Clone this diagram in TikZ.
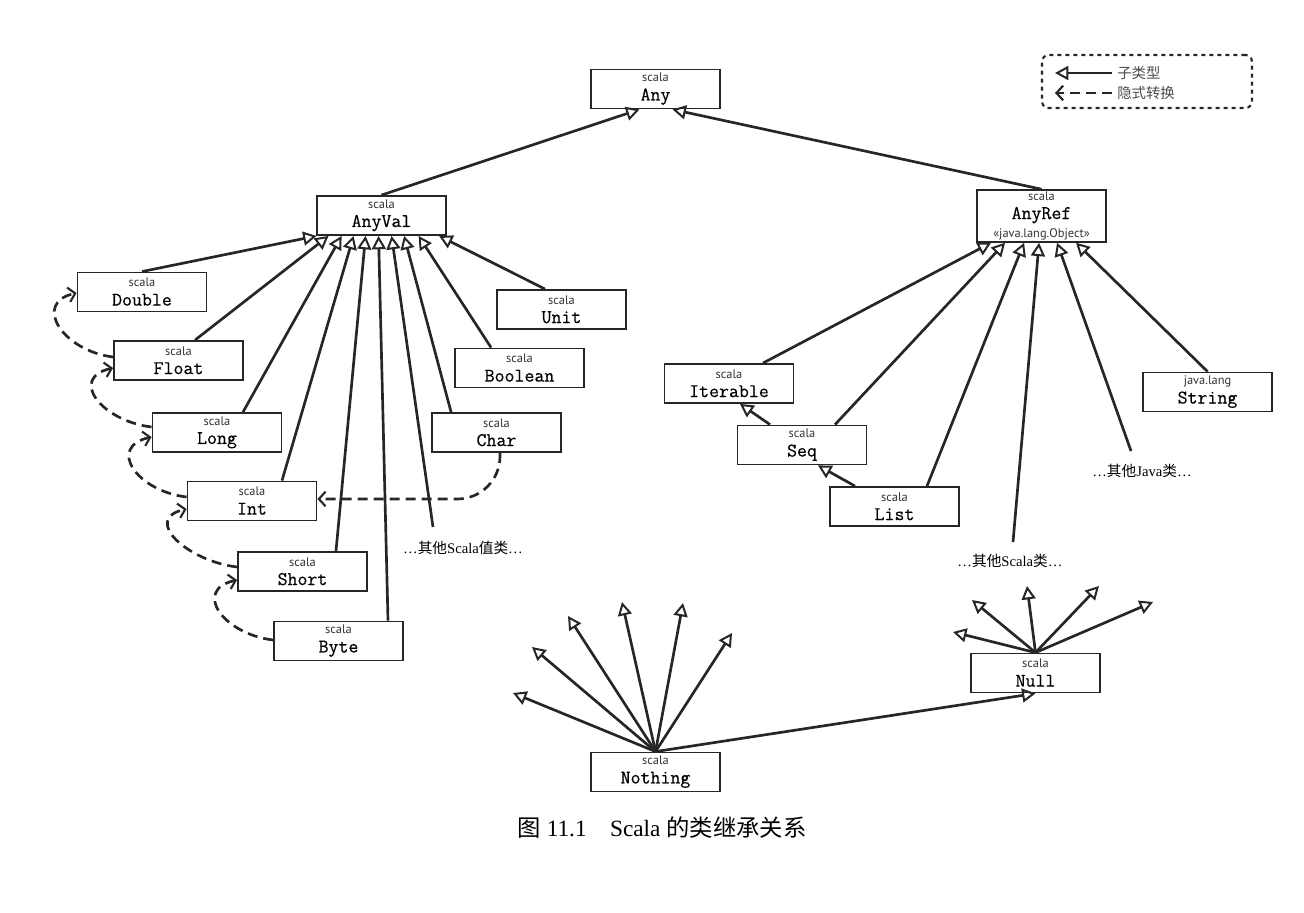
\documentclass[tikz,border=0pt]{standalone}
\usepackage{fontspec}
\setmainfont{Liberation Serif}
\newfontfamily\cjk{Noto Sans CJK SC}
\newfontfamily\pksans{PT Sans}
\newfontfamily\namefont{Latin Modern Mono}[FakeBold=0.45]
\usetikzlibrary{arrows.meta,calc}

% package line (small sans) and type name (monospace)
\newcommand{\pk}[1]{{\pksans\fontsize{9.3}{9.5}\selectfont\color{black!80}#1}}
\newcommand{\nm}[1]{{\namefont\fontsize{14.5}{15}\selectfont #1}}

\tikzset{
  cls/.style={draw=black!85, line width=1.15pt, fill=white, minimum width=97pt,
    minimum height=29.5pt, inner sep=0pt, align=center,
    font=\fontsize{10}{14}\selectfont},
  inh/.style={draw=black!85, line width=2pt,
    -{Triangle[open, length=10pt, width=10.5pt, line width=1.5pt]}},
  impl/.style={draw=black!85, line width=2pt, dash pattern=on 7.5pt off 4.5pt,
    -{Straight Barb[length=5pt, width=11pt, line width=1.6pt]}},
  note/.style={inner sep=0pt, font=\fontsize{11}{13}\selectfont},
}

\begin{document}
\begin{tikzpicture}[x=0.75pt, y=-0.75pt]
\useasboundingbox (0,0) rectangle (1304,913);

% ---------- top of the hierarchy ----------
\node[cls] (any)    at (655.5,89)  {\pk{scala}\\\nm{Any}};
\node[cls] (anyval) at (381.5,215.5) {\pk{scala}\\\nm{AnyVal}};
\node[cls, minimum height=39pt] (anyref) at (1041.5,216)
  {\pk{scala}\\\nm{AnyRef}\\\pk{«java.lang.Object»}};

% ---------- value classes ----------
\node[cls] (double)  at (142,292)    {\pk{scala}\\\nm{Double}};
\node[cls] (float)   at (178.5,360.5){\pk{scala}\\\nm{Float}};
\node[cls] (long)    at (217,432.5)  {\pk{scala}\\\nm{Long}};
\node[cls] (int)     at (252,501)    {\pk{scala}\\\nm{Int}};
\node[cls] (short)   at (302.5,571.5){\pk{scala}\\\nm{Short}};
\node[cls] (byte)    at (338.5,641)  {\pk{scala}\\\nm{Byte}};
\node[cls] (char)    at (496.5,432.5){\pk{scala}\\\nm{Char}};
\node[cls] (unit)    at (561.5,309.5){\pk{scala}\\\nm{Unit}};
\node[cls] (boolean) at (519.5,368)  {\pk{scala}\\\nm{Boolean}};

% ---------- reference classes ----------
\node[cls] (iterable) at (729,383.5)  {\pk{scala}\\\nm{Iterable}};
\node[cls] (seq)      at (802,445)    {\pk{scala}\\\nm{Seq}};
\node[cls] (list)     at (894.5,506.5){\pk{scala}\\\nm{List}};
\node[cls] (string)   at (1207.5,392) {\pk{java.lang}\\\nm{String}};

% ---------- bottom types ----------
\node[cls] (nothing) at (655.5,772) {\pk{scala}\\\nm{Nothing}};
\node[cls] (null)    at (1035.5,673){\pk{scala}\\\nm{Null}};

% ---------- "other classes" placeholders ----------
\coordinate (osv) at (433,527);
\coordinate (osc) at (1013,542);
\coordinate (ojv) at (1131,451);
\node[note] (osvt) at (463,548) {…{\cjk 其他}Scala{\cjk 值类}…};
\node[note] (osct) at (1010,561) {…{\cjk 其他}Scala{\cjk 类}…};
\node[note] (ojvt) at (1142,471) {…{\cjk 其他}Java{\cjk 类}…};

% ---------- subtype edges ----------
\draw[inh] (anyval.north) -- ($(any.south)+(-16,0)$);
\draw[inh] (anyref.north) -- ($(any.south)+(17,0)$);

\draw[inh] (double.north) -- ($(anyval.south west)+(0.5,0)$);
\draw[inh] ($(float.north)+(16.5,0)$) -- ($(anyval.south west)+(12.5,0)$);
\draw[inh] ($(long.north)+(26,0)$) -- ($(anyval.south west)+(25.5,0)$);
\draw[inh] ($(int.north)+(30,0)$) -- ($(anyval.south west)+(37.5,0)$);
\draw[inh] ($(short.north)+(33.5,0)$) -- ($(anyval.south west)+(49.5,0)$);
\draw[inh] ($(byte.north)+(49.5,0)$) -- ($(anyval.south west)+(62.5,0)$);
\draw[inh] (osv) -- ($(anyval.south west)+(75.5,0)$);
\draw[inh] ($(char.north west)+(20,0)$) -- ($(anyval.south west)+(88,0)$);
\draw[inh] ($(boolean.north west)+(37,0)$) -- ($(anyval.south west)+(102.5,0)$);
\draw[inh] ($(unit.north west)+(49,0)$) -- ($(anyval.south west)+(123,0)$);

\draw[inh] ($(iterable.north)+(34,0)$) -- ($(anyref.south west)+(15,0)$);
\draw[inh] ($(seq.north)+(33,0)$) -- ($(anyref.south west)+(29,0)$);
\draw[inh] ($(list.north)+(32.5,0)$) -- ($(anyref.south west)+(48,0)$);
\draw[inh] (osc) -- ($(anyref.south west)+(63,0)$);
\draw[inh] (ojv) -- ($(anyref.south west)+(81,0)$);
\draw[inh] (string.north) -- ($(anyref.south west)+(100,0)$);

\draw[inh] ($(seq.north)+(-32,0)$) -- ($(iterable.south)+(11,0)$);
\draw[inh] ($(list.north)+(-39.5,0)$) -- ($(seq.south)+(16,0)$);

% ---------- implicit conversions ----------
\draw[impl] ($(float.west)+(0,-3.5)$) .. controls +(-50,-6) and +(-45,10) .. ($(double.west)+(0,1)$);
\draw[impl] ($(long.west)+(0,-5.5)$) .. controls +(-50,-6) and +(-45,10) .. ($(float.west)+(0,7.5)$);
\draw[impl] ($(int.west)+(0,-4)$) .. controls +(-50,-6) and +(-45,10) .. ($(long.west)+(0,4.5)$);
\draw[impl] ($(short.west)+(0,-4.5)$) .. controls +(-50,-6) and +(-45,10) .. ($(int.west)+(0,8)$);
\draw[impl] ($(byte.west)+(0,-1)$) .. controls +(-50,-6) and +(-45,10) .. ($(short.west)+(0,8.5)$);
\draw[impl, rounded corners=32pt] ($(char.south)+(3.5,0)$) |- ($(int.east)+(0,-2)$);

% ---------- Nothing and Null fans ----------
\foreach \p in {(513,693),(532,647),(568,616),(622,602),(683,603),(732,633)}
  \draw[inh] (nothing.north) -- \p;
\draw[inh] (nothing.north) -- (null.south);
\foreach \p in {(953,632),(972,600),(1027,586),(1099,586),(1153,602)}
  \draw[inh] (null.north) -- \p;

% ---------- legend ----------
\node[draw=black!85, line width=1.6pt, dash pattern=on 3pt off 3pt,
  rounded corners=5pt, minimum width=157.5pt, minimum height=39.75pt]
  (legend) at (1147,81.5) {};
\coordinate (la1) at (1112,73);
\coordinate (lb1) at (1055,73);
\coordinate (la2) at (1112,93);
\coordinate (lb2) at (1055,93);
\draw[inh] (la1) -- (lb1);
\draw[impl] (la2) -- (lb2);
\node[anchor=west, inner sep=0pt, text=black!70, font=\cjk\fontsize{10.8}{12}\selectfont]
  (lt1) at (1117,73) {子类型};
\node[anchor=west, inner sep=0pt, text=black!70, font=\cjk\fontsize{10.8}{12}\selectfont]
  (lt2) at (1117,93) {隐式转换};

% ---------- caption ----------
\node[inner sep=0pt, font=\fontsize{17.5}{20}\selectfont] (cap) at (662,828)
  {{\cjk 图} 11.1\hspace{1em}Scala {\cjk 的类继承关系}};
\end{tikzpicture}
\end{document}
